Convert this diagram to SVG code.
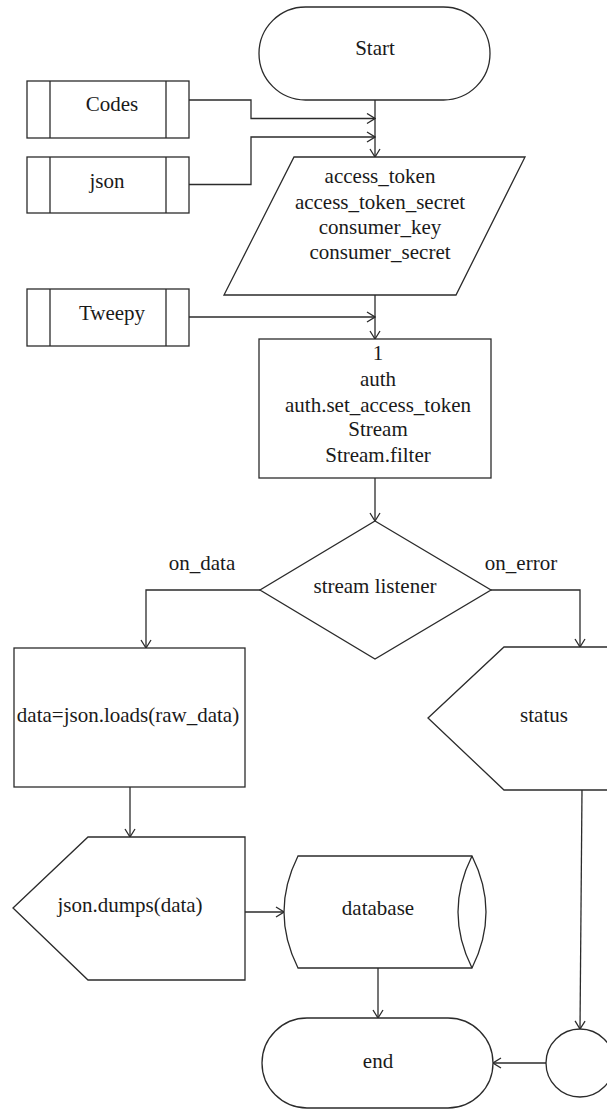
<svg xmlns="http://www.w3.org/2000/svg" width="607" height="1109" viewBox="0 0 607 1109" font-family="'Liberation Serif', 'Times New Roman', 'DejaVu Serif', serif">
<style>
.s{fill:#fff;stroke:#2b2b2b;stroke-width:1.3}
.c{fill:none;stroke:#2b2b2b;stroke-width:1.3}
.t{font-family:'Liberation Serif','Times New Roman','DejaVu Serif',serif;font-size:21px;fill:#1a1a1a;text-anchor:middle}
</style>
<defs>
<marker id="a" markerWidth="10" markerHeight="12" refX="9" refY="6" orient="auto" markerUnits="userSpaceOnUse">
<path d="M1,1 L9,6 L1,11" fill="none" stroke="#2b2b2b" stroke-width="1.3"/>
</marker>
</defs>
<rect width="607" height="1109" fill="#fff"/>
<g id="connectors">
<path class="c" d="M375,100 V157" marker-end="url(#a)"/>
<path class="c" d="M189,100 H251 V118.5 H375" marker-end="url(#a)"/>
<path class="c" d="M189,184.5 H251 V137 H375" marker-end="url(#a)"/>
<path class="c" d="M375,295 V339" marker-end="url(#a)"/>
<path class="c" d="M189,317 H375" marker-end="url(#a)"/>
<path class="c" d="M375,478 V521" marker-end="url(#a)"/>
<path class="c" d="M260,590 H146 V648" marker-end="url(#a)"/>
<path class="c" d="M491,590 H580 V647" marker-end="url(#a)"/>
<path class="c" d="M130,787 V837" marker-end="url(#a)"/>
<path class="c" d="M245,912 H284" marker-end="url(#a)"/>
<path class="c" d="M378,968 V1018" marker-end="url(#a)"/>
<path class="c" d="M582,790 L580,1029" marker-end="url(#a)"/>
<path class="c" d="M546,1063 H493" marker-end="url(#a)"/>
<text class="t" x="202" y="570">on_data</text>
<text class="t" x="521" y="570">on_error</text>
</g>
<g id="start">
<rect class="s" x="259" y="7" width="231" height="93" rx="46.5" ry="46.5"/>
<text class="t" x="375" y="55">Start</text>
</g>
<g id="codes">
<rect class="s" x="27" y="81" width="162" height="57"/>
<path class="c" d="M50,81 V138 M166,81 V138"/>
<text class="t" x="112" y="111">Codes</text>
</g>
<g id="json">
<rect class="s" x="27" y="157" width="162" height="56"/>
<path class="c" d="M50,157 V213 M166,157 V213"/>
<text class="t" x="107" y="188">json</text>
</g>
<g id="inputs">
<polygon class="s" points="294,157 525,157 456,295 224,295"/>
<text class="t" x="380" y="183">access_token</text>
<text class="t" x="380" y="209">access_token_secret</text>
<text class="t" x="380" y="234">consumer_key</text>
<text class="t" x="380" y="259">consumer_secret</text>
</g>
<g id="tweepy">
<rect class="s" x="27" y="289" width="162" height="57"/>
<path class="c" d="M50,289 V346 M166,289 V346"/>
<text class="t" x="112" y="320">Tweepy</text>
</g>
<g id="process1">
<rect class="s" x="259" y="339" width="232" height="139"/>
<text class="t" x="378" y="360">1</text>
<text class="t" x="378" y="386">auth</text>
<text class="t" x="378" y="412">auth.set_access_token</text>
<text class="t" x="378" y="436">Stream</text>
<text class="t" x="378" y="462">Stream.filter</text>
</g>
<g id="listener">
<polygon class="s" points="375,521 491,590 375,659 260,590"/>
<text class="t" x="375" y="593">stream listener</text>
</g>
<g id="loads">
<rect class="s" x="14" y="648" width="231" height="139"/>
<text class="t" x="128" y="722">data=json.loads(raw_data)</text>
</g>
<g id="status">
<polygon class="s" points="428,718 504,647 620,647 620,790 504,790"/>
<text class="t" x="544" y="722">status</text>
</g>
<g id="dumps">
<polygon class="s" points="13,908 88,837 245,837 245,980 88,980"/>
<text class="t" x="130" y="912">json.dumps(data)</text>
</g>
<g id="database">
<path class="s" d="M298,856 H472 Q500,912 472,968 H298 Q270,912 298,856 Z"/>
<path class="c" d="M472,856 Q444,912 472,968"/>
<text class="t" x="378" y="915">database</text>
</g>
<g id="end">
<rect class="s" x="262" y="1018" width="231" height="90" rx="45" ry="45"/>
<text class="t" x="378" y="1068">end</text>
</g>
<g id="connector-circle">
<circle class="s" cx="580" cy="1063" r="34"/>
</g>
</svg>
